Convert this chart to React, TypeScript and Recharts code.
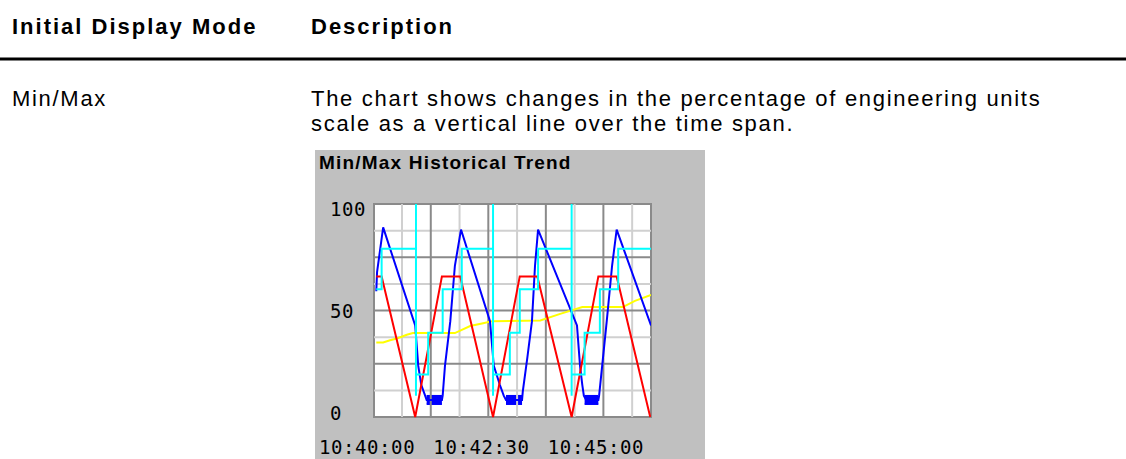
import React from "react";
import {
  ComposedChart,
  Line,
  Area,
  XAxis,
  YAxis,
  CartesianGrid,
  ReferenceLine,
  ReferenceArea,
} from "recharts";

// time is seconds after 10:40:00
const timeTicks = [0, 150, 300];
const timeLabels = ["10:40:00", "10:42:30", "10:45:00"];
const valueTicks = [0, 50, 100];

const blueTimes = [-51, -50, -42, 0, 4, 8, 13, 15, 35, 36, 39, 46, 52, 60, 98, 103, 111, 116, 119, 140, 141, 147, 153, 157, 161, 212, 216, 219, 221, 224, 240, 241, 245, 251, 258, 264, 309];
const blueValues = [59, 68, 89, 43, 24, 15, 10, 8, 8, 10, 24, 45, 71, 88, 45, 24, 15, 10, 8, 8, 12, 28, 45, 71, 88, 43, 24, 15, 10, 8, 8, 10, 24, 45, 71, 88, 43];

// min/max band where the blue pen sits at the bottom
const bandStart = [15, 119, 222];
const bandEnd = [35, 140, 240];
const bandLow = [6, 6, 6];
const bandHigh = [10, 10, 10];

const redTimes = [-51, -44, 0, 35, 59, 102, 137, 160, 205, 240, 264, 308];
const redValues = [66, 66, 0, 66, 66, 0, 66, 66, 0, 66, 66, 0];

const cyanTimes = [-51, -44, -44, 1, 1, 1, 1, 17, 17, 36, 36, 61, 61, 102, 102, 102, 102, 124, 124, 137, 137, 161, 161, 205, 205, 205, 205, 222, 222, 242, 242, 266, 266, 309];
const cyanValues = [60, 60, 79, 79, 100, 10, 20, 20, 39.5, 39.5, 60, 60, 79, 79, 100, 10, 20, 20, 39.5, 39.5, 60, 60, 79, 79, 100, 10, 20, 20, 39.5, 39.5, 60, 60, 79, 79];

const yellowTimes = [-51, -42, -33, -23, -11, -3, 52, 72, 89, 101, 164, 190, 219, 272, 288, 309];
const yellowValues = [35, 35, 36, 37, 38.6, 39.4, 39.4, 42.7, 44, 45, 45.3, 48.4, 51.6, 51.6, 54.5, 57.3];

const gridDarkTimes = [20.4, 95.8, 171.2, 246.6];
const gridLightTimes = [-17.3, 58.1, 133.5, 208.9, 284.3];
const gridDarkValues = [25, 50, 75];
const gridLightValues = [12.5, 37.5, 62.5, 87.5];

const toPoints = (ts: number[], vs: number[]) => ts.map((t, i) => ({ t, v: vs[i] }));

const blueData = toPoints(blueTimes, blueValues);
const redData = toPoints(redTimes, redValues);
const cyanData = toPoints(cyanTimes, cyanValues);
const yellowData = toPoints(yellowTimes, yellowValues);
const bands = bandStart.map((s, i) => [
  { t: s, r: [bandLow[i], bandHigh[i]] },
  { t: bandEnd[i], r: [bandLow[i], bandHigh[i]] },
]);

const mono = '"DejaVu Sans Mono", monospace';
const sans = '"Liberation Sans", Arial, sans-serif';

function TimeTick(props: any) {
  const i = timeTicks.indexOf(props.payload.value);
  return (
    <text x={props.x} y={258} textAnchor="end" fontFamily={mono} fontSize={19} fill="#000" style={{ letterSpacing: 0.6 }}>
      {timeLabels[i]}
    </text>
  );
}

function ValueTick(props: any) {
  const v = props.payload.value;
  const nudge = v === 100 ? 4 : v === 0 ? -4 : 0;
  return (
    <text x={15} y={props.y + nudge + 7} textAnchor="start" fontFamily={mono} fontSize={19} fill="#000" style={{ letterSpacing: 0.6 }}>
      {v}
    </text>
  );
}

export default function App() {
  const body = { letterSpacing: 1.7 };
  const head = { letterSpacing: 2 };
  return (
    <div style={{ position: "absolute", left: 0, top: 0, width: 1126, height: 459, background: "#fff", overflow: "hidden" }}>
      <svg width={1126} height={459} style={{ position: "absolute", left: 0, top: 0 }}>
        <g fontFamily={sans} fill="#000">
          <text x={12} y={34} fontSize={22} fontWeight="bold" style={head}>Initial Display Mode</text>
          <text x={311} y={34} fontSize={22} fontWeight="bold" style={head}>Description</text>
          <rect x={0} y={57.5} width={1126} height={3} fill="#000" />
          <text x={12} y={106} fontSize={22} style={body}>Min/Max</text>
          <text x={311} y={106} fontSize={22} style={body}>The chart shows changes in the percentage of engineering units</text>
          <text x={311} y={131} fontSize={22} style={body}>scale as a vertical line over the time span.</text>
        </g>
        <rect x={315} y={150} width={390} height={309} fill="#c0c0c0" />
        <text x={319} y={169} fontFamily={sans} fontSize={19} fontWeight="bold" style={{ letterSpacing: 1.2 }}>
          Min/Max Historical Trend
        </text>
      </svg>
      <div style={{ position: "absolute", left: 315, top: 196 }}>
        <ComposedChart width={390} height={263} margin={{ top: 8, right: 54, bottom: 0, left: 0 }}>
          <CartesianGrid horizontal={false} vertical={false} fill="#fff" />
          <XAxis
            dataKey="t"
            type="number"
            domain={[-54, 309]}
            ticks={timeTicks}
            tick={<TimeTick />}
            tickLine={false}
            axisLine={false}
            height={42}
            allowDataOverflow
          />
          <YAxis
            type="number"
            domain={[0, 100]}
            ticks={valueTicks}
            tick={<ValueTick />}
            tickLine={false}
            axisLine={false}
            width={59}
          />
          {gridLightTimes.map((t) => (
            <ReferenceLine key={"lx" + t} x={t} stroke="#d0d0d0" strokeWidth={2} />
          ))}
          {gridLightValues.map((v) => (
            <ReferenceLine key={"ly" + v} y={v} stroke="#d0d0d0" strokeWidth={2} />
          ))}
          {gridDarkTimes.map((t) => (
            <ReferenceLine key={"dx" + t} x={t} stroke="#8a8a8a" strokeWidth={2} />
          ))}
          {gridDarkValues.map((v) => (
            <ReferenceLine key={"dy" + v} y={v} stroke="#8a8a8a" strokeWidth={2} />
          ))}
          <ReferenceArea x1={-54} x2={309} y1={0} y2={100} fill="none" stroke="#8a8a8a" strokeWidth={2} />
          <Line data={yellowData} dataKey="v" type="linear" stroke="#ffff00" strokeWidth={2} dot={false} isAnimationActive={false} />
          {bands.map((b, i) => (
            <Area
              key={"band" + i}
              data={b}
              dataKey="r"
              type="linear"
              stroke="#0000ff"
              strokeWidth={1.5}
              fill="#0000ff"
              fillOpacity={1}
              dot={false}
              isAnimationActive={false}
            />
          ))}
          <Line data={blueData} dataKey="v" type="linear" stroke="#0000ff" strokeWidth={2} dot={false} isAnimationActive={false} />
          <Line data={redData} dataKey="v" type="linear" stroke="#ff0000" strokeWidth={2} dot={false} isAnimationActive={false} />
          <Line data={cyanData} dataKey="v" type="linear" stroke="#00ffff" strokeWidth={2} dot={false} isAnimationActive={false} />
        </ComposedChart>
      </div>
    </div>
  );
}
